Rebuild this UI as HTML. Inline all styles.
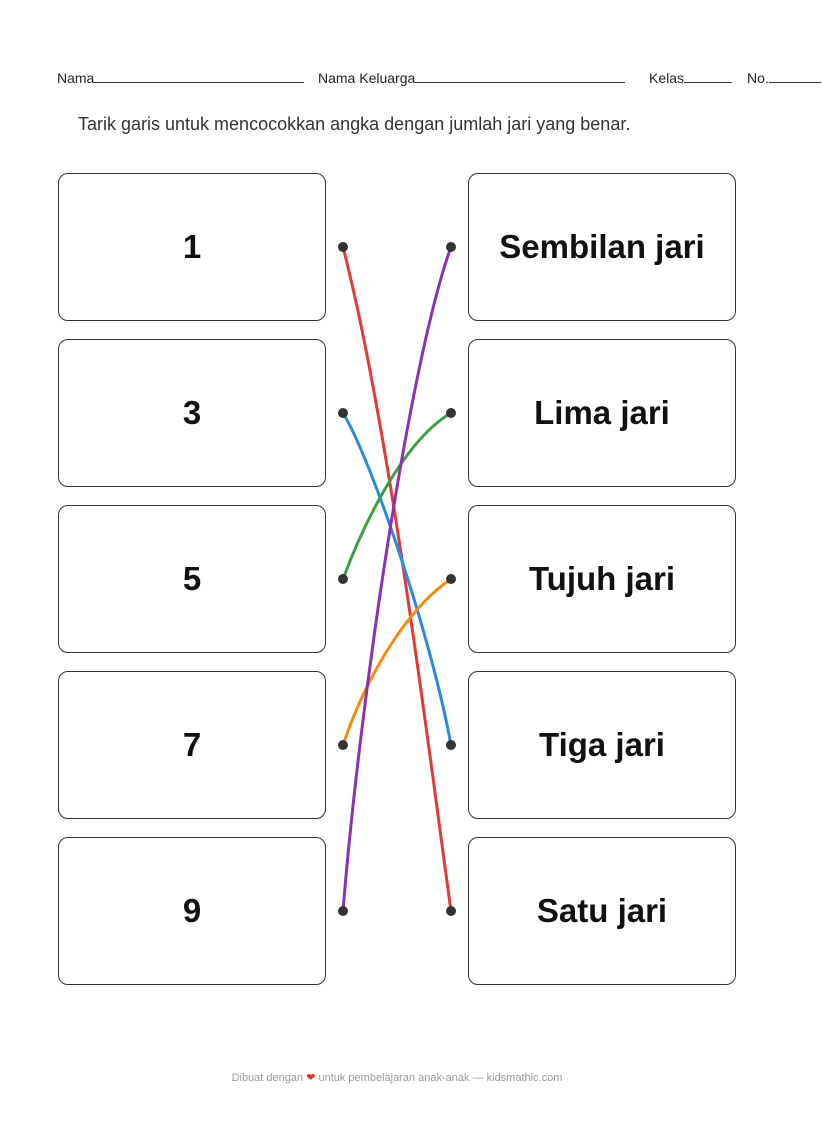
<!DOCTYPE html>
<html><head><meta charset="utf-8"><style>
body{margin:0;width:822px;height:1123px;background:#fff;position:relative;font-family:"Liberation Sans",sans-serif;overflow:hidden}
.hdr{position:absolute;top:70px;font-size:14px;color:#222}
.ln{display:inline-block;border-bottom:1px solid #333;vertical-align:baseline}
.box{position:absolute;width:268px;height:148px;border:1.5px solid #333;border-radius:10px;box-sizing:border-box;display:flex;align-items:center;justify-content:center;font-weight:bold;font-size:33px;color:#111}
</style></head><body>
<div class="hdr" style="left:57px">Nama<span class="ln" style="width:210px"></span></div>
<div class="hdr" style="left:318px">Nama Keluarga<span class="ln" style="width:210px"></span></div>
<div class="hdr" style="left:649px">Kelas<span class="ln" style="width:48px"></span></div>
<div class="hdr" style="left:747px">No.<span class="ln" style="width:52px"></span></div>
<div style="position:absolute;left:78px;top:114px;font-size:18px;color:#333">Tarik garis untuk mencocokkan angka dengan jumlah jari yang benar.</div>
<div class="box" style="left:58px;top:173px">1</div>
<div class="box" style="left:58px;top:339px">3</div>
<div class="box" style="left:58px;top:505px">5</div>
<div class="box" style="left:58px;top:671px">7</div>
<div class="box" style="left:58px;top:837px">9</div>
<div class="box" style="left:468px;top:173px">Sembilan jari</div>
<div class="box" style="left:468px;top:339px">Lima jari</div>
<div class="box" style="left:468px;top:505px">Tujuh jari</div>
<div class="box" style="left:468px;top:671px">Tiga jari</div>
<div class="box" style="left:468px;top:837px">Satu jari</div>
<svg style="position:absolute;left:0;top:0" width="822" height="1123">
<g fill="none" stroke-width="3" stroke-linecap="round">
<path d="M343,247 C390,430 430,760 451,911" stroke="#e03a36"/>
<path d="M343,413 C372,460 432,640 451,745" stroke="#2a8ae0"/>
<path d="M343,579 C365,520 405,440 451,413" stroke="#3d9e45"/>
<path d="M343,745 C365,680 405,610 451,579" stroke="#f08c12"/>
<path d="M343,911 C360,700 410,360 451,247" stroke="#8a32b0"/>
</g>
<g fill="#333">
<circle cx="343" cy="247" r="5"/><circle cx="343" cy="413" r="5"/><circle cx="343" cy="579" r="5"/><circle cx="343" cy="745" r="5"/><circle cx="343" cy="911" r="5"/>
<circle cx="451" cy="247" r="5"/><circle cx="451" cy="413" r="5"/><circle cx="451" cy="579" r="5"/><circle cx="451" cy="745" r="5"/><circle cx="451" cy="911" r="5"/>
</g>
</svg>
<div style="position:absolute;left:0;width:794px;text-align:center;top:1071px;font-size:11px;color:#999">Dibuat dengan <span style="color:#e03030">❤</span> untuk pembelajaran anak-anak — kidsmathic.com</div>
</body></html>
